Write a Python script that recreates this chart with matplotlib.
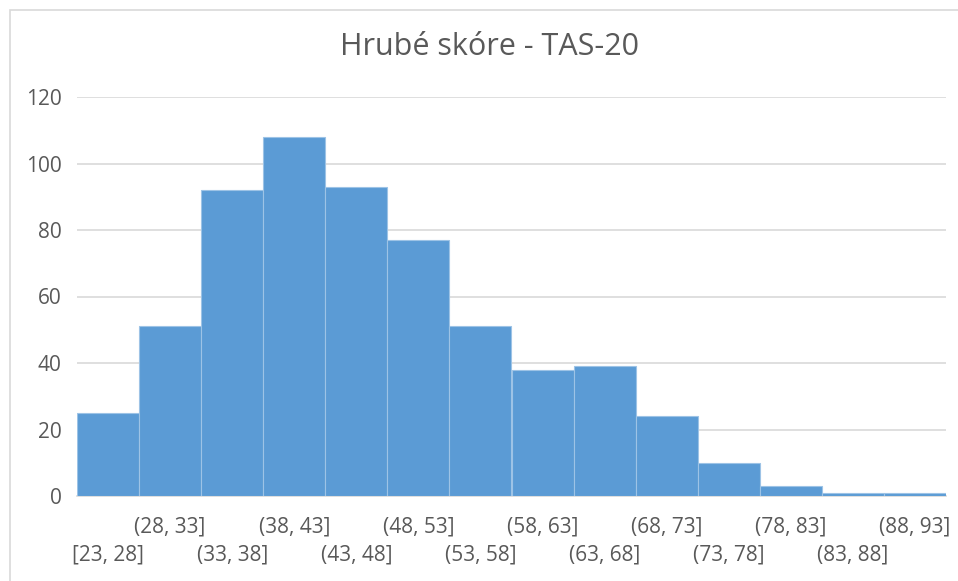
import matplotlib
matplotlib.use("Agg")
from matplotlib import pyplot as plt
from matplotlib.patches import Rectangle
import numpy as np

plt.rcParams['font.family'] = ['Open Sans', 'DejaVu Sans']

bins = ["[23, 28]", "(28, 33]", "(33, 38]", "(38, 43]", "(43, 48]", "(48, 53]", "(53, 58]",
        "(58, 63]", "(63, 68]", "(68, 73]", "(73, 78]", "(78, 83]", "(83, 88]", "(88, 93]"]
counts = [25, 51, 92, 108, 93, 77, 51, 38, 39, 24, 10, 3, 1, 1]
yticks = [0, 20, 40, 60, 80, 100, 120]

W, H = 958, 581
fig = plt.figure(figsize=(W / 100, H / 100), dpi=100)
ax = fig.add_axes([77 / W, 1 - 496 / H, (946 - 77) / W, (496 - 97) / H])

# light frame round the chart area
fig.patches.append(Rectangle((10 / W, -0.1), 1.2, 1.1 - 10 / H, transform=fig.transFigure,
                             fill=False, edgecolor='#d9d9d9', linewidth=1.2))

x = np.arange(len(counts))
ax.bar(x, counts, width=1.0, color='#5B9BD5', edgecolor='#9DC3E6', linewidth=0.8, zorder=3)

ax.set_xlim(-0.5, len(counts) - 0.5)
ax.set_ylim(0, 120)
ax.set_yticks(yticks)
ax.yaxis.grid(True, color='#d9d9d9', linewidth=1.2, zorder=0)
for s in ['top', 'right', 'left']:
    ax.spines[s].set_visible(False)
ax.spines['bottom'].set_color('#d9d9d9')
ax.spines['bottom'].set_linewidth(1.2)
ax.tick_params(axis='y', length=0, pad=11, labelsize=15, labelcolor='#595959')

# staggered category labels: even on the lower row, odd on the upper row
ax.set_xticks(x[0::2])
ax.set_xticklabels(bins[0::2])
ax.set_xticks(x[1::2], minor=True)
ax.set_xticklabels(bins[1::2], minor=True)
ax.tick_params(axis='x', which='major', length=0, pad=35, labelsize=15, labelcolor='#595959')
ax.tick_params(axis='x', which='minor', length=0, pad=15, labelsize=15, labelcolor='#595959')

fig.text(489 / W, 1 - 47 / H, "Hrubé skóre - TAS-20", ha='center', va='center',
         fontsize=22, color='#595959')

fig.savefig("out.png", dpi=100)
